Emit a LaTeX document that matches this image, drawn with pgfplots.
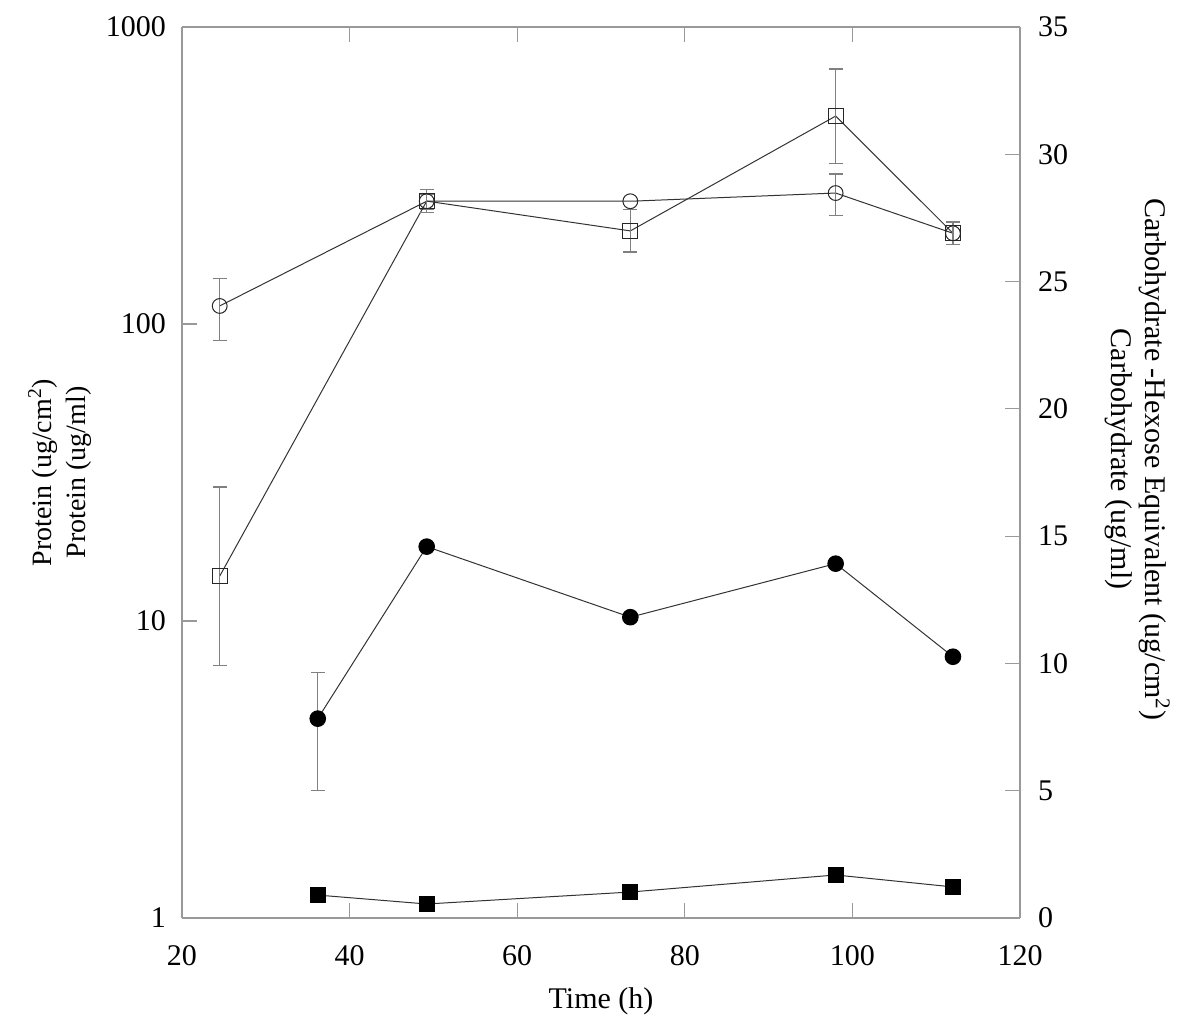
\documentclass[border=0pt]{standalone}
\usepackage{fontspec}
\setmainfont{Liberation Serif}
\usepackage{pgfplots}
\pgfplotsset{compat=1.18}
\pgfplotstableread{
x y e
24.5 115 27
49.2 259 15
73.5 259 0
98 276 44
112 202 17
}\opencirc
\pgfplotstableread{
x y e
36.2 4.69 2.0
49.2 17.8 0
73.5 10.3 0
98 15.6 0
112 7.58 0
}\fillcirc
\pgfplotstableread{
x y e
24.5 13.43 3.5
49.2 28.16 0.45
73.5 26.99 0.83
98 31.5 1.85
112 26.9 0.44
}\opensq
\pgfplotstableread{
x y
36.2 0.90
49.2 0.55
73.5 1.02
98 1.69
112 1.22
}\fillsq
\begin{document}
\begin{tikzpicture}
\pgfplotsset{
  base/.style={scale only axis, width=419pt, height=445.5pt, xmin=20, xmax=120,
    tick label style={font=\fontsize{15}{17}\selectfont},
    label style={font=\fontsize{14}{17}\selectfont},
    /pgf/number format/assume math mode=true,
    axis line style={gray!80, line width=0.6pt},
    major tick style={gray!80, line width=0.6pt},
    tick align=inside, major tick length=7.5pt, minor tick length=0pt,
  },
  ln/.style={black!80, line width=0.5pt},
  eb/.style={error bars/.cd, y dir=both, y explicit,
    error bar style={gray, line width=0.6pt},
    error mark options={rotate=90, mark size=3.5pt, gray, line width=0.6pt}},
}
\begin{axis}[base, ymode=log, ymin=1, ymax=1000,
  ytick={1,10,100,1000}, yticklabels={1,10,100,1000},
  xtick={20,40,...,120},
  axis y line*=left,
  yticklabel style={xshift=-4.5pt},
  xticklabel style={yshift=-10pt},
  xlabel={Time (h)},
  xlabel style={at={(axis description cs:0.5,-0.093)}, anchor=center, font=\fontsize{15}{17}\selectfont},
  ylabel={Protein (ug/cm\textsuperscript{2})\\Protein (ug/ml)},
  ylabel style={at={(axis description cs:-0.1456,0.5)}, anchor=center, align=center},
]
\addplot[ln, mark=o, mark size=3.7pt, mark options={fill=white, black!85, line width=0.5pt}, eb] table[x=x, y=y, y error=e] {\opencirc};
\addplot[ln, mark=*, mark size=3.9pt, mark options={fill=black, black}, eb] table[x=x, y=y, y error=e] {\fillcirc};
\end{axis}
\begin{axis}[base, ymin=0, ymax=35, ytick={0,5,...,35},
  axis y line*=right, axis x line=none,
  yticklabel style={xshift=5.5pt},
  ylabel={Carbohydrate -Hexose Equivalent (ug/cm\textsuperscript{2})\\Carbohydrate (ug/ml)},
  ylabel style={at={(axis description cs:1.14,0.515)}, anchor=center, align=center, rotate=180, font=\fontsize{15}{17}\selectfont},
]
\addplot[ln, mark=square, mark size=3.7pt, mark options={fill=white, black!85, line width=0.5pt}, eb] table[x=x, y=y, y error=e] {\opensq};
\addplot[ln, mark=square*, mark size=3.8pt, mark options={fill=black, black}] table[x=x, y=y] {\fillsq};
\end{axis}
\path (-91pt,-57pt) rectangle (509pt,459pt);
\end{tikzpicture}
\end{document}
